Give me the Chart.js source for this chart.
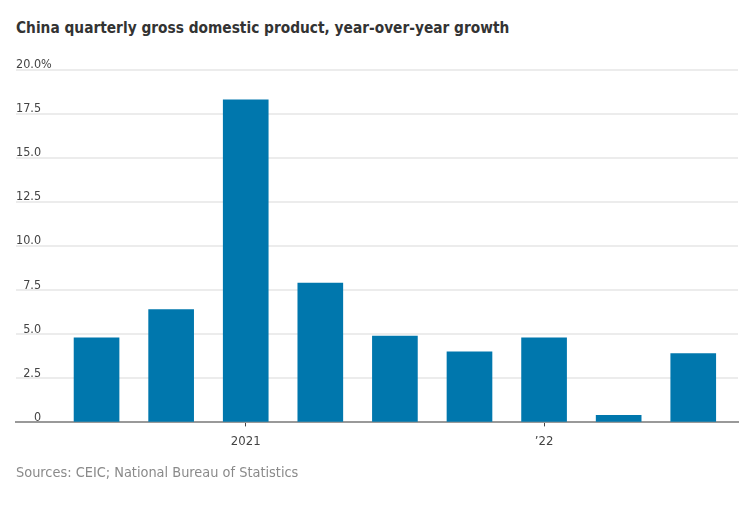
<!DOCTYPE html>
<html>
<head>
<meta charset="utf-8">
<script src="https://cdn.jsdelivr.net/npm/chart.js@4.4.1/dist/chart.umd.min.js"></script>
<style>
  html, body { margin: 0; padding: 0; background: #fff; }
  body { width: 743px; height: 507px; position: relative; overflow: hidden; }
  .title {
    position: absolute; left: 16px; top: 19px;
    font-family: 'DejaVu Sans Condensed', sans-serif;
    font-weight: bold; font-size: 15.3px; color: #333;
  }
  .source {
    position: absolute; left: 16px; top: 464px;
    font-family: 'DejaVu Sans Condensed', sans-serif;
    font-size: 14.4px; color: #8a8a8a;
  }
  #chartWrap { position: absolute; left: 0; top: 0; width: 743px; height: 507px; }
</style>
</head>
<body>
<div class="title">China quarterly gross domestic product, year-over-year growth</div>
<div id="chartWrap"><canvas id="gdpChart"></canvas></div>
<div class="source">Sources: CEIC; National Bureau of Statistics</div>
<script>
'use strict';
const quarters = ['Q3 2020', 'Q4 2020', 'Q1 2021', 'Q2 2021', 'Q3 2021', 'Q4 2021', 'Q1 2022', 'Q2 2022', 'Q3 2022'];
const growthValues = [4.8, 6.4, 18.3, 7.9, 4.9, 4.0, 4.8, 0.4, 3.9];
const yearTickIndex = [2, 6];
const yearTickLabels = ['2021', '\u201922'];
const yTicks = [0, 2.5, 5, 7.5, 10, 12.5, 15, 17.5, 20];

const tickFont = { family: "'DejaVu Sans Condensed', sans-serif", size: 12.5 };

const barData = growthValues.map((v, i) => ({ x: i, y: v, q: quarters[i] }));

// pad short labels with figure spaces so they line up on the right like the original
const padLabel = function(text){
  if(text === '0') return '\u2007\u2007\u2008' + text;
  if(text.length === 3) return '\u2007' + text;
  return text;
};

const ctx = document.getElementById('gdpChart').getContext('2d');

new Chart(ctx, {
  type: 'bar',
  data: {
    datasets: [{
      label: 'GDP growth',
      data: barData,
      backgroundColor: '#0077ad',
      barThickness: 45
    }]
  },
  options: {
    responsive: true,
    maintainAspectRatio: false,
    animation: false,
    layout: { padding: { left: 16, right: 5, top: 70, bottom: 51 } },
    plugins: { legend: { display: false }, tooltip: { enabled: false } },
    scales: {
      x: {
        type: 'linear',
        offset: false,
        min: -1.08,
        max: 8.6,
        afterBuildTicks: function(axis){
          axis.ticks = yearTickIndex.map(v => ({ value: v }));
        },
        grid: { offset: false, drawOnChartArea: false, drawTicks: true, tickLength: 4, color: '#444', lineWidth: 1 },
        border: { color: '#999', width: 2 },
        ticks: {
          font: { family: tickFont.family, size: 13 },
          color: '#444',
          padding: 7,
          maxRotation: 0,
          callback: function(value){
            const idx = yearTickIndex.indexOf(value);
            return idx >= 0 ? yearTickLabels[idx] : '';
          }
        }
      },
      y: {
        min: 0,
        max: 20,
        afterBuildTicks: function(axis){
          axis.ticks = yTicks.map(v => ({ value: v }));
        },
        grid: { color: '#ececec', lineWidth: 2, drawTicks: false },
        border: { display: false },
        ticks: {
          mirror: true,
          padding: 0,
          labelOffset: -5,
          font: tickFont,
          color: '#444',
          callback: function(value){
            if(value === 20) return '20.0%';
            if(value === 0) return padLabel('0');
            return padLabel(value.toFixed(1));
          }
        }
      }
    }
  }
});
</script>
</body>
</html>
